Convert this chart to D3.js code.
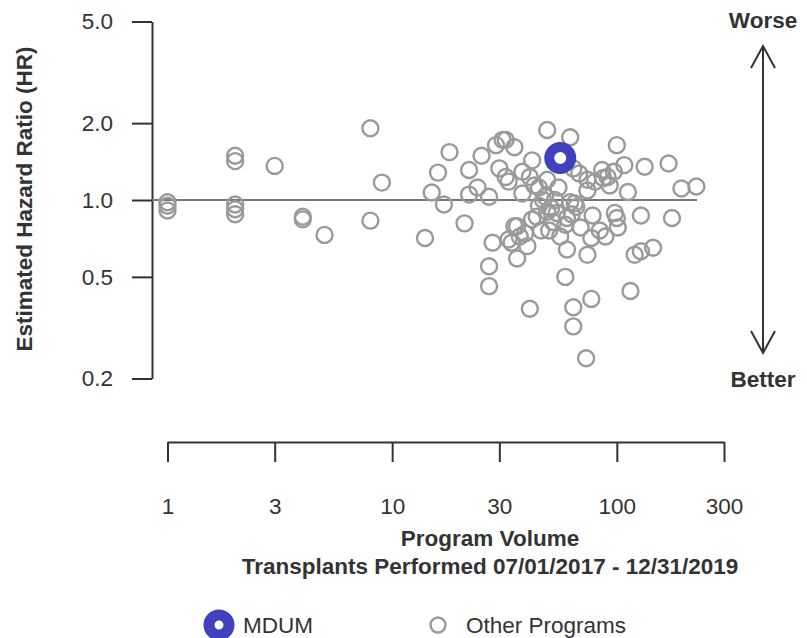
<!DOCTYPE html>
<html>
<head>
<meta charset="utf-8">
<script src="https://cdn.jsdelivr.net/npm/d3@7"></script>
<style>
  html, body { margin: 0; padding: 0; background: #fff; }
  svg { display: block; font-family: "Liberation Sans", Arial, Helvetica, sans-serif; }
</style>
</head>
<body>
<svg id="chart" width="807" height="638"></svg>
<script>
// Program volume (transplants) and estimated hazard ratio for other programs
const otherVolume = [
  1, 1, 1, 2, 2, 2, 2, 2, 3, 4, 4, 5, 8, 8, 9,
  14, 15, 16, 17, 18, 21, 22, 22, 24, 25, 27, 29, 31, 32, 35,
  30, 32, 33, 38, 42, 41, 49, 28, 27, 27, 34, 36, 36, 37, 39,
  40, 42, 45, 50, 54, 60, 66, 78, 77, 74, 60, 59, 41, 64, 64,
  77, 73, 98, 100, 101, 128, 176, 84, 89, 120, 128, 145, 115, 62, 100,
  108, 133, 170, 194, 226, 86, 91, 87, 74, 68, 64, 93, 112, 53, 62,
  65, 55, 49, 45, 47, 49, 52, 46, 56, 59, 63, 69, 74, 80, 97,
  43, 48, 44, 51, 35, 33, 38
];
const otherHR = [
  0.98, 0.95, 0.91, 1.49, 1.42, 0.96, 0.92, 0.88, 1.36, 0.86, 0.84, 0.73, 1.91, 0.83, 1.17,
  0.71, 1.07, 1.28, 0.96, 1.54, 0.81, 1.31, 1.05, 1.12, 1.49, 1.03, 1.64, 1.72, 1.72, 1.61,
  1.33, 1.23, 1.18, 1.29, 1.43, 1.23, 1.88, 0.68, 0.55, 0.46, 0.68, 0.79, 0.59, 0.72, 0.74,
  0.66, 0.84, 0.95, 0.76, 0.89, 0.85, 0.94, 0.87, 0.71, 0.61, 0.64, 0.50, 0.375, 0.38, 0.32,
  0.41, 0.24, 0.89, 0.85, 0.78, 0.87, 0.85, 0.76, 0.72, 0.61, 0.63, 0.65, 0.44, 1.76, 1.64,
  1.37, 1.35, 1.39, 1.11, 1.13, 1.31, 1.23, 1.22, 1.20, 1.27, 1.33, 1.14, 1.075, 1.0, 0.98,
  0.97, 1.12, 1.20, 1.12, 1.0, 0.90, 0.82, 0.76, 0.72, 0.80, 0.88, 0.78, 1.09, 1.18, 1.29,
  1.14, 1.03, 0.86, 0.93, 0.79, 0.70, 1.06
];
// Highlighted program
const focusName = "MDUM";
const focusVolume = [56];
const focusHR = [1.46];

// Axis ticks and labels
const xTicks = [1, 3, 10, 30, 100, 300];
const yTicks = [0.2, 0.5, 1.0, 2.0, 5.0];
const yTickLabels = ["0.2", "0.5", "1.0", "2.0", "5.0"];
const yTitle = "Estimated Hazard Ratio (HR)";
const xTitle = ["Program Volume", "Transplants Performed 07/01/2017 - 12/31/2019"];
const legendLabels = ["MDUM", "Other Programs"];
const directionLabels = ["Worse", "Better"];

const ink = "#333333";
const grey = "#9a9a9a";
const blue = "#4141bd";
const fontFamily = "Liberation Sans, Arial, sans-serif";
const fs = 22.5;

const svg = d3.select("#chart");

const x = d3.scaleLog().domain([1, 300]).range([167.5, 724]);
const y = d3.scaleLog().domain([0.2, 5]).range([378.5, 21.5]);

// Y axis (ticks point left, labels right-aligned)
const yAxis = d3.axisLeft(y)
  .tickValues(yTicks)
  .tickFormat((d, i) => yTickLabels[i])
  .tickSize(20)
  .tickSizeOuter(0)
  .tickPadding(19);
const gy = svg.append("g").attr("transform", "translate(152,0)").call(yAxis);
gy.select(".domain").attr("stroke", ink).attr("stroke-width", 2);
gy.selectAll(".tick line").attr("stroke", ink).attr("stroke-width", 2);
gy.selectAll(".tick text").attr("fill", ink).attr("font-size", fs)
  .attr("font-family", fontFamily);

// X axis (ticks point down)
const xAxis = d3.axisBottom(x)
  .tickValues(xTicks)
  .tickFormat(d3.format("d"))
  .tickSize(20)
  .tickSizeOuter(0)
  .tickPadding(36);
const gx = svg.append("g").attr("transform", "translate(0,442)").call(xAxis);
gx.select(".domain").attr("stroke", ink).attr("stroke-width", 2);
gx.selectAll(".tick line").attr("stroke", ink).attr("stroke-width", 2);
gx.selectAll(".tick text").attr("fill", ink).attr("font-size", fs)
  .attr("font-family", fontFamily);

// Reference line at HR = 1
svg.append("line")
  .attr("x1", 152).attr("x2", 697)
  .attr("y1", y(1)).attr("y2", y(1))
  .attr("stroke", "#777").attr("stroke-width", 2);

// Other programs
const others = otherVolume.map((v, i) => ({ v, hr: otherHR[i] }));
svg.append("g").selectAll("circle").data(others).join("circle")
  .attr("cx", d => x(d.v))
  .attr("cy", d => y(d.hr))
  .attr("r", 8)
  .attr("fill", "none")
  .attr("stroke", grey)
  .attr("stroke-width", 2.4);

// Highlighted program
svg.append("g").selectAll("circle").data(focusVolume.map((v, i) => ({ v, hr: focusHR[i] }))).join("circle")
  .attr("cx", d => x(d.v))
  .attr("cy", d => y(d.hr))
  .attr("r", 11)
  .attr("fill", "#fff")
  .attr("stroke", blue)
  .attr("stroke-width", 10);

// Axis titles
const bold = (sel) => sel.attr("font-size", fs).attr("font-weight", "bold").attr("fill", ink)
  .attr("font-family", fontFamily);

svg.append("text")
  .attr("transform", "translate(32,199) rotate(-90)")
  .attr("text-anchor", "middle")
  .call(bold)
  .text(yTitle);

svg.append("text")
  .attr("x", 490).attr("y", 546)
  .attr("text-anchor", "middle")
  .call(bold)
  .text(xTitle[0]);
svg.append("text")
  .attr("x", 490).attr("y", 574)
  .attr("text-anchor", "middle")
  .call(bold)
  .text(xTitle[1]);

// Direction arrow
const ax = 763, aTop = 46, aBot = 353;
svg.append("line").attr("x1", ax).attr("x2", ax).attr("y1", aTop).attr("y2", aBot)
  .attr("stroke", ink).attr("stroke-width", 2);
svg.append("path")
  .attr("d", `M${ax - 12},${aTop + 22} L${ax},${aTop} L${ax + 12},${aTop + 22}`)
  .attr("fill", "none").attr("stroke", ink).attr("stroke-width", 2);
svg.append("path")
  .attr("d", `M${ax - 12},${aBot - 22} L${ax},${aBot} L${ax + 12},${aBot - 22}`)
  .attr("fill", "none").attr("stroke", ink).attr("stroke-width", 2);
svg.append("text").attr("x", ax).attr("y", 28).attr("text-anchor", "middle")
  .call(bold).text(directionLabels[0]);
svg.append("text").attr("x", ax).attr("y", 387).attr("text-anchor", "middle")
  .call(bold).text(directionLabels[1]);

// Legend
const leg = svg.append("g");
leg.append("circle").attr("cx", 219).attr("cy", 625).attr("r", 10)
  .attr("fill", "#fff").attr("stroke", blue).attr("stroke-width", 11);
leg.append("text").attr("x", 243).attr("y", 633).attr("font-size", fs)
  .attr("font-family", fontFamily).attr("fill", ink).text(legendLabels[0]);
leg.append("circle").attr("cx", 438).attr("cy", 625).attr("r", 7.5)
  .attr("fill", "none").attr("stroke", grey).attr("stroke-width", 2.4);
leg.append("text").attr("x", 466).attr("y", 633).attr("font-size", fs)
  .attr("font-family", fontFamily).attr("fill", ink).text(legendLabels[1]);
</script>
</body>
</html>
